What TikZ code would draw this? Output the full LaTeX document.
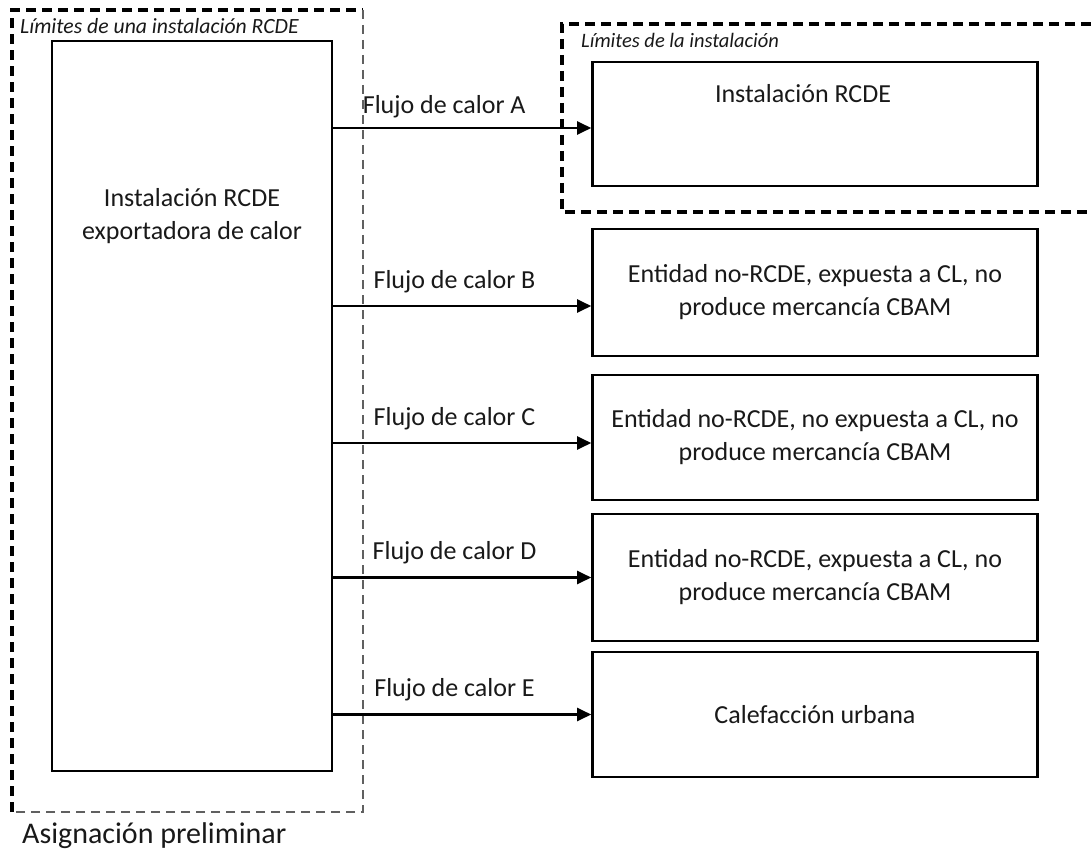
\documentclass[tikz,border=0pt]{standalone}
\usepackage{fontspec}
\setmainfont{Carlito}
\usetikzlibrary{arrows.meta}

\begin{document}
\begin{tikzpicture}[x=1pt,y=-1pt,
	box/.style={draw,line width=2.6pt,minimum width=445pt,inner sep=0pt,align=center,text=black!90,font=\fontsize{26}{33}\selectfont},
	txt/.style={inner sep=0pt,align=center,text=black!90,font=\fontsize{26}{33}\selectfont},
	lim/.style={inner sep=0pt,anchor=base west,text=black!90,font=\fontsize{20.5}{24}\selectfont\itshape},
	flow/.style={-{Triangle[length=14pt,width=13pt]},line width=2.2pt},
	flowlabel/.style={txt,above=12pt,pos=0.47},
	thickdash/.style={line width=3.4pt,dash pattern=on 10pt off 6pt},
	thindash/.style={line width=1.3pt,gray!75!black,dash pattern=on 9pt off 6pt}]
	\fill[white] (0,0) rectangle (1091,850);
	\useasboundingbox (0,0) rectangle (1091,850);

	\draw[thickdash] (12,812) -- (12,10) -- (363,10);
	\draw[thindash] (363,10) -- (363,812) -- (12,812);
	\draw[thickdash] (1091,24) -- (562,24) -- (562,212) -- (1091,212);

	\node[lim,font=\fontsize{21.7}{25}\selectfont\itshape] (limrcde) at (20,34) {Límites de una instalación RCDE};
	\node[lim] (liminst) at (581,48) {Límites de la instalación};
	\node[txt,anchor=base west,font=\fontsize{30}{36}\selectfont] (asig) at (22,843) {Asignación preliminar};

	\node[box,minimum width=280pt,minimum height=730pt] (exp) at (192,406) {};
	\node[txt] (expt) at (192,216) {Instalación RCDE\\exportadora de calor};

	\node[box,minimum height=124pt] (a) at (815,124) {};
	\node[txt] (insta) at (803,94) {Instalación RCDE};
	\node[box,minimum height=127pt] (b) at (815,292.5) {Entidad no-RCDE, expuesta a CL, no\\produce mercancía CBAM};
	\node[box,minimum height=125pt] (c) at (815,437.5) {Entidad no-RCDE, no expuesta a CL, no\\produce mercancía CBAM};
	\node[box,minimum height=127pt] (d) at (815,577.5) {Entidad no-RCDE, expuesta a CL, no\\produce mercancía CBAM};
	\node[box,minimum height=125pt] (e) at (815,714.5) {Calefacción urbana};

	\draw[flow] ([yshift=-4pt]a.west -| exp.east) -- node[flowlabel,yshift=-3pt,pos=0.43] {Flujo de calor A} ([yshift=-4pt]a.west);
	\draw[flow] ([yshift=-13.5pt]b.west -| exp.east) -- node[flowlabel] {Flujo de calor B} ([yshift=-13.5pt]b.west);
	\draw[flow] ([yshift=-5.5pt]c.west -| exp.east) -- node[flowlabel] {Flujo de calor C} ([yshift=-5.5pt]c.west);
	\draw[flow] (d.west -| exp.east) -- node[flowlabel] {Flujo de calor D} (d.west);
	\draw[flow] (e.west -| exp.east) -- node[flowlabel] {Flujo de calor E} (e.west);
\end{tikzpicture}
\end{document}
